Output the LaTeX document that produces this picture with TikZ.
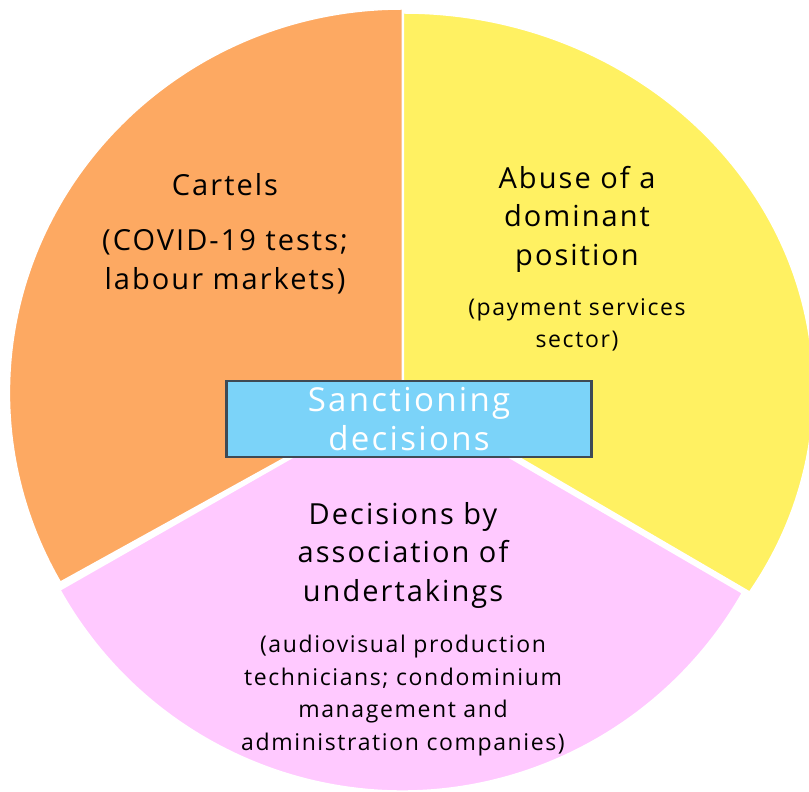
\documentclass[tikz,border=0pt]{standalone}
\usepackage{fontspec}
\setmainfont[LetterSpace=7]{Open Sans}
\usepackage{xcolor}
\usepackage{tikz}
\usetikzlibrary{positioning}
\definecolor{cartelorange}{HTML}{FDA962}
\definecolor{abuseyellow}{HTML}{FFF162}
\definecolor{assocpink}{HTML}{FFC9FF}
\definecolor{boxblue}{HTML}{7BD3F9}
\definecolor{boxedge}{HTML}{3E4A55}

\begin{document}
\begin{tikzpicture}[x=1pt, y=1pt, node distance=26pt]
\tikzstyle{slice}=[draw=white, line width=1.5pt]
\tikzstyle{lbl}=[align=center, inner sep=0pt, font=\fontsize{29}{38.5}\selectfont]
\tikzstyle{note}=[align=center, inner sep=0pt, font=\fontsize{23}{32.5}\selectfont]
\useasboundingbox (0,0) rectangle (809,792);

% the three slices, each one a little apart
\filldraw[slice, fill=cartelorange] (402.4,399) -- ++(0,384) arc[start angle=90, end angle=209.5, x radius=393pt, y radius=384pt] -- cycle;
\filldraw[slice, fill=abuseyellow] (403.4,402) -- ++(0,377) arc[start angle=90, end angle=-32.4, x radius=410pt, y radius=377pt] -- cycle;
\filldraw[slice, fill=assocpink] (402,397) -- ++(209.5:393pt and 396pt) arc[start angle=209.5, end angle=330, x radius=393pt, y radius=396pt] -- cycle;

\node[lbl] (cartels) at (225,607) {Cartels};
\node[lbl, below=33pt of cartels] (cartelsnote) {(COVID-19 tests;\\labour markets)};

\node[lbl] (abuse) at (577,573) {Abuse of a\\dominant\\position};
\node[note, below=of abuse] (abusenote) {(payment services\\sector)};

\node[lbl] (assoc) at (403,237) {Decisions by\\association of\\undertakings};
\node[note, below=27pt of assoc] (assocnote) {(audiovisual production\\technicians; condominium\\management and\\administration companies)};

% centre box
\node[draw=boxedge, line width=2.5pt, fill=boxblue, text=white, minimum width=365pt, minimum height=76pt, inner sep=0pt, align=center, font=\fontsize{33}{39}\selectfont] (sanction) at (409,373) {Sanctioning\\decisions};
\end{tikzpicture}
\end{document}
